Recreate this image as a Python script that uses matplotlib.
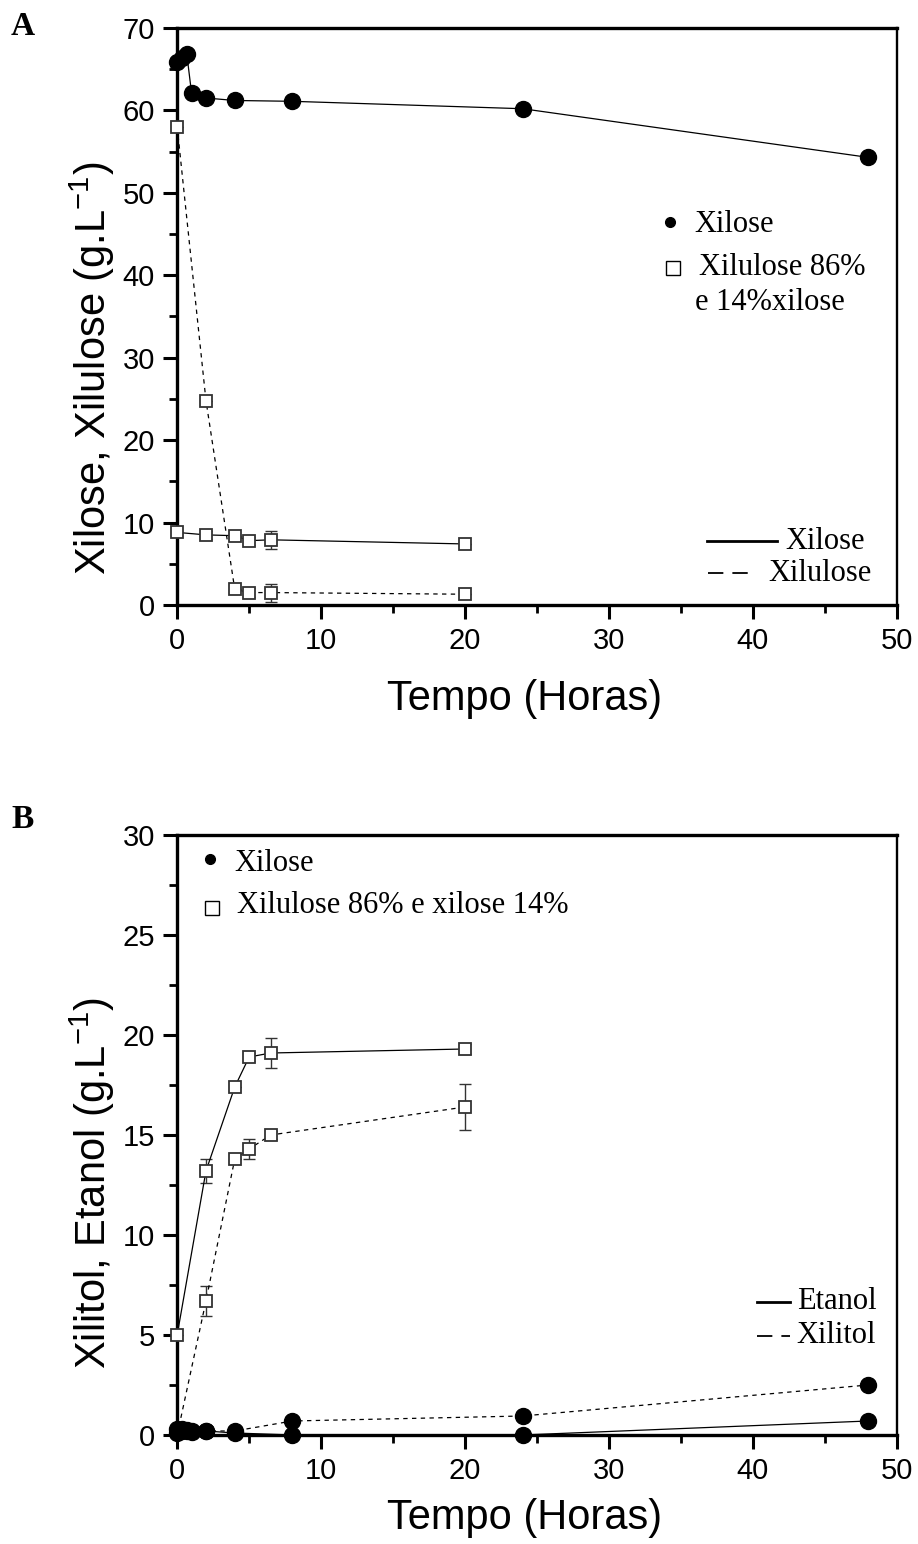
import matplotlib
matplotlib.use("Agg")
import matplotlib.pyplot as plt
from matplotlib.ticker import MultipleLocator

plt.rcParams['font.family'] = ['Liberation Sans', 'DejaVu Sans']
plt.rcParams['mathtext.fontset'] = 'custom'
plt.rcParams['mathtext.rm'] = 'Liberation Sans'
plt.rcParams['mathtext.it'] = 'Liberation Sans'

# ---------------- Data: Panel A ----------------
t_xyl = [0, 0.33, 0.67, 1, 2, 4, 8, 24, 48]
a_xylose = [65.9, 66.4, 66.8, 62.1, 61.5, 61.2, 61.1, 60.2, 54.3]

t_mix = [0, 2, 4, 5, 6.5, 20]
a_mix_xylose = [8.8, 8.5, 8.4, 7.8, 7.9, 7.4]
a_mix_xylose_err = [0, 0.5, 0, 0.5, 1.1, 0]
a_mix_xylulose = [58.0, 24.8, 1.9, 1.5, 1.5, 1.3]
a_mix_xylulose_err = [0, 0, 0, 0.5, 1.1, 0]

# ---------------- Data: Panel B ----------------
b_xyl_etanol = [0.3, 0.3, 0.25, 0.2, 0.2, 0.1, 0.0, 0.0, 0.7]
b_xyl_xilitol = [0.1, 0.2, 0.2, 0.15, 0.2, 0.2, 0.7, 0.95, 2.5]

b_mix_etanol = [5.0, 13.2, 17.4, 18.9, 19.1, 19.3]
b_mix_etanol_err = [0, 0.6, 0, 0.2, 0.75, 0.25]
b_mix_xilitol = [0.0, 6.7, 13.8, 14.3, 15.0, 16.4]
b_mix_xilitol_err = [0, 0.75, 0, 0.48, 0.2, 1.15]

fig = plt.figure(figsize=(9.18, 15.44), dpi=100)
axA = fig.add_axes([0.193, 0.6082, 0.784, 0.3737])
axB = fig.add_axes([0.193, 0.0706, 0.784, 0.3886])

serif = ['Liberation Serif', 'DejaVu Serif']
lw = 0.9
dash = (0, (3.5, 3.5))
err_kw = dict(ecolor='#333333', elinewidth=1.0, capsize=4.3, capthick=1.0)
sq_kw = dict(mfc='white', mec='#333333', mew=1.3, ms=8.8, ls='none', zorder=3, clip_on=False)
ci_kw = dict(color='black', ms=11.5, ls='none', zorder=3, clip_on=False)
LEG = 22

def style(ax, ymax, ymaj, ymin):
    ax.set_xlim(0, 50)
    ax.set_ylim(0, ymax)
    ax.xaxis.set_major_locator(MultipleLocator(10))
    ax.xaxis.set_minor_locator(MultipleLocator(5))
    ax.yaxis.set_major_locator(MultipleLocator(ymaj))
    ax.yaxis.set_minor_locator(MultipleLocator(ymin))
    ax.tick_params(which='major', direction='out', length=10, width=2.2, labelsize=21, pad=6)
    ax.tick_params(which='minor', direction='out', length=6, width=2.0)
    ax.tick_params(top=False, right=False)
    for s in ['left', 'bottom', 'top']:
        ax.spines[s].set_linewidth(2.4)
    ax.spines['right'].set_linewidth(1.7)

def leg_line(ax, x0, x1, y, ls, lwid, text, tx):
    ax.plot([x0, x1], [y, y], color='black', lw=lwid, ls=ls, transform=ax.transAxes, clip_on=False)
    ax.text(tx, y, text, transform=ax.transAxes, family=serif, fontsize=LEG, va='center', ha='left')

# ---------- Panel A ----------
axA.plot(t_xyl, a_xylose, '-', color='black', lw=lw, zorder=2)
axA.plot(t_xyl, a_xylose, 'o', **ci_kw)
axA.errorbar(t_mix, a_mix_xylose, yerr=a_mix_xylose_err, fmt='-', color='black', lw=lw, zorder=2, **err_kw)
axA.plot(t_mix, a_mix_xylose, 's', **sq_kw)
axA.errorbar(t_mix, a_mix_xylulose, yerr=a_mix_xylulose_err, fmt='none', zorder=2, **err_kw)
axA.plot(t_mix, a_mix_xylulose, color='black', lw=lw, linestyle=dash, zorder=2)
axA.plot(t_mix, a_mix_xylulose, 's', **sq_kw)
style(axA, 70, 10, 5)
axA.set_xlabel('Tempo (Horas)', fontsize=30)
axA.xaxis.set_label_coords(0.483, -0.128)
axA.set_ylabel('Xilose, Xilulose (g.L$^{-1}$)', fontsize=30)
axA.yaxis.set_label_coords(-0.084, 0.41)

# marker legend A
axA.plot([0.685], [0.664], 'o', color='black', ms=7, transform=axA.transAxes, clip_on=False)
axA.text(0.718, 0.659, 'Xilose', transform=axA.transAxes, family=serif, fontsize=LEG, va='center')
axA.plot([0.689], [0.584], 's', mfc='white', mec='black', mew=1.0, ms=9.5, transform=axA.transAxes, clip_on=False)
axA.text(0.725, 0.584, 'Xilulose 86%', transform=axA.transAxes, family=serif, fontsize=LEG, va='center')
axA.text(0.720, 0.525, 'e 14%xilose', transform=axA.transAxes, family=serif, fontsize=LEG, va='center')
# line legend A
leg_line(axA, 0.736, 0.833, 0.110, '-', 2.0, 'Xilose', 0.845)
leg_line(axA, 0.738, 0.800, 0.055, (0, (8.5, 5)), 1.3, 'Xilulose', 0.821)

# ---------- Panel B ----------
axB.plot(t_xyl, b_xyl_etanol, '-', color='black', lw=lw, zorder=2)
axB.plot(t_xyl, b_xyl_xilitol, color='black', lw=lw, linestyle=dash, zorder=2)
axB.plot(t_xyl, b_xyl_etanol, 'o', **ci_kw)
axB.plot(t_xyl, b_xyl_xilitol, 'o', **ci_kw)
axB.errorbar(t_mix, b_mix_etanol, yerr=b_mix_etanol_err, fmt='-', color='black', lw=lw, zorder=2, **err_kw)
axB.plot(t_mix, b_mix_etanol, 's', **sq_kw)
axB.errorbar(t_mix, b_mix_xilitol, yerr=b_mix_xilitol_err, fmt='none', zorder=2, **err_kw)
axB.plot(t_mix, b_mix_xilitol, color='black', lw=lw, linestyle=dash, zorder=2)
axB.plot(t_mix[1:], b_mix_xilitol[1:], 's', **sq_kw)
style(axB, 30, 5, 2.5)
axB.set_xlabel('Tempo (Horas)', fontsize=30)
axB.xaxis.set_label_coords(0.483, -0.105)
axB.set_ylabel('Xilitol, Etanol (g.L$^{-1}$)', fontsize=30)
axB.yaxis.set_label_coords(-0.084, 0.42)

axB.plot([0.046], [0.960], 'o', color='black', ms=7, transform=axB.transAxes, clip_on=False)
axB.text(0.080, 0.953, 'Xilose', transform=axB.transAxes, family=serif, fontsize=LEG, va='center')
axB.plot([0.048], [0.879], 's', mfc='white', mec='black', mew=1.0, ms=9.5, transform=axB.transAxes, clip_on=False)
axB.text(0.083, 0.883, 'Xilulose 86% e xilose 14%', transform=axB.transAxes, family=serif, fontsize=LEG, va='center')

leg_line(axB, 0.806, 0.851, 0.222, '-', 2.0, 'Etanol', 0.861)
leg_line(axB, 0.806, 0.851, 0.165, (0, (8.5, 5)), 1.3, 'Xilitol', 0.861)

fig.text(0.012, 0.983, 'A', fontsize=24, fontweight='bold', family=serif, va='center')
fig.text(0.012, 0.469, 'B', fontsize=24, fontweight='bold', family=serif, va='center')

fig.savefig('out.png', dpi=100)
